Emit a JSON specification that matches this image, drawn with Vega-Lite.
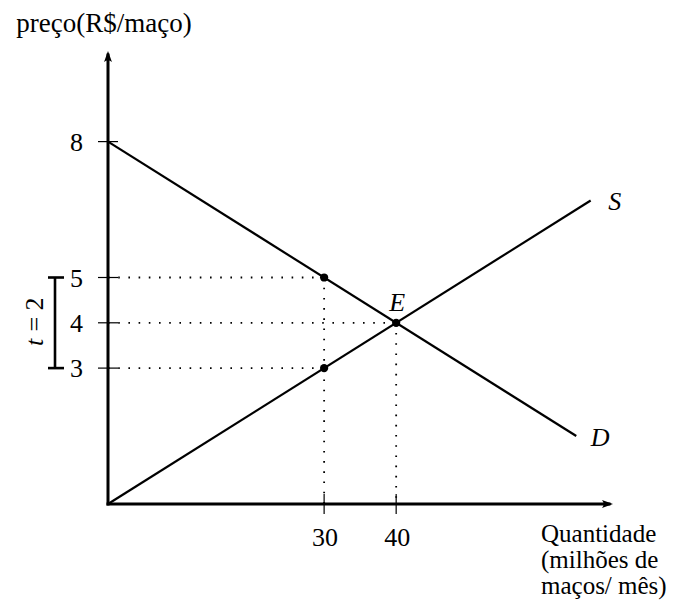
{
  "$schema": "https://vega.github.io/schema/vega-lite/v6.json",
  "width": 505,
  "height": 453,
  "autosize": "none",
  "padding": {"left": 108, "top": 51, "right": 77, "bottom": 102},
  "background": "white",
  "config": {
    "view": {"stroke": null},
    "text": {"font": "Liberation Serif", "fontSize": 26, "color": "black"}
  },
  "layer": [
    {
      "data": {"values": [{"q": 0, "p": 0, "q2": 70.1}]},
      "mark": {"type": "rule", "color": "black", "strokeWidth": 3, "strokeCap": "square", "x2Offset": -4},
      "encoding": {
        "x": {"field": "q", "type": "quantitative", "scale": {"domain": [0, 70.1], "nice": false, "zero": false}, "axis": null},
        "x2": {"field": "q2"},
        "y": {"field": "p", "type": "quantitative", "scale": {"domain": [0, 10], "nice": false, "zero": false}, "axis": null}
      }
    },
    {
      "data": {"values": [{"q": 0, "p": 0, "p2": 10}]},
      "mark": {"type": "rule", "color": "black", "strokeWidth": 3, "strokeCap": "square", "y2Offset": 4},
      "encoding": {
        "x": {"field": "q", "type": "quantitative", "scale": {"domain": [0, 70.1], "nice": false, "zero": false}, "axis": null},
        "y": {"field": "p", "type": "quantitative", "scale": {"domain": [0, 10], "nice": false, "zero": false}, "axis": null},
        "y2": {"field": "p2"}
      }
    },
    {
      "data": {"values": [{"q": 70.1, "p": 0}]},
      "mark": {"type": "point", "shape": "M0,0 L-2,-0.72 Q-1.4,0 -2,0.72 Z", "size": 121, "filled": true, "opacity": 1, "color": "black", "strokeWidth": 0, "angle": 0},
      "encoding": {
        "x": {"field": "q", "type": "quantitative", "scale": {"domain": [0, 70.1], "nice": false, "zero": false}, "axis": null},
        "y": {"field": "p", "type": "quantitative", "scale": {"domain": [0, 10], "nice": false, "zero": false}, "axis": null}
      }
    },
    {
      "data": {"values": [{"q": 0, "p": 10}]},
      "mark": {"type": "point", "shape": "M0,0 L-2,-0.72 Q-1.4,0 -2,0.72 Z", "size": 121, "filled": true, "opacity": 1, "color": "black", "strokeWidth": 0, "angle": -90},
      "encoding": {
        "x": {"field": "q", "type": "quantitative", "scale": {"domain": [0, 70.1], "nice": false, "zero": false}, "axis": null},
        "y": {"field": "p", "type": "quantitative", "scale": {"domain": [0, 10], "nice": false, "zero": false}, "axis": null}
      }
    },
    {
      "data": {"values": [
        {"s": "D", "q": 0, "p": 8}, {"s": "D", "q": 65, "p": 1.5},
        {"s": "S", "q": 0, "p": 0}, {"s": "S", "q": 67, "p": 6.7}
      ]},
      "mark": {"type": "line", "color": "black", "strokeWidth": 2.2},
      "encoding": {
        "x": {"field": "q", "type": "quantitative", "scale": {"domain": [0, 70.1], "nice": false, "zero": false}, "axis": null},
        "y": {"field": "p", "type": "quantitative", "scale": {"domain": [0, 10], "nice": false, "zero": false}, "axis": null},
        "detail": {"field": "s"}
      }
    },
    {
      "data": {"values": [
        {"q": 0, "p": 5, "q2": 30, "p2": 5},
        {"q": 0, "p": 4, "q2": 40, "p2": 4},
        {"q": 0, "p": 3, "q2": 30, "p2": 3},
        {"q": 30, "p": 5, "q2": 30, "p2": 0},
        {"q": 40, "p": 4, "q2": 40, "p2": 0}
      ]},
      "mark": {"type": "rule", "color": "black", "strokeWidth": 1.8, "strokeDash": [1.6, 8.6]},
      "encoding": {
        "x": {"field": "q", "type": "quantitative", "scale": {"domain": [0, 70.1], "nice": false, "zero": false}, "axis": null},
        "y": {"field": "p", "type": "quantitative", "scale": {"domain": [0, 10], "nice": false, "zero": false}, "axis": null},
        "x2": {"field": "q2"},
        "y2": {"field": "p2"}
      }
    },
    {
      "data": {"values": [{"p": 8}, {"p": 5}, {"p": 4}, {"p": 3}]},
      "mark": {"type": "rule", "color": "black", "strokeWidth": 1.2, "xOffset": -10, "x2Offset": 10},
      "encoding": {
        "x": {"datum": 0, "type": "quantitative", "scale": {"domain": [0, 70.1], "nice": false, "zero": false}, "axis": null},
        "x2": {"datum": 0},
        "y": {"field": "p", "type": "quantitative", "scale": {"domain": [0, 10], "nice": false, "zero": false}, "axis": null}
      }
    },
    {
      "data": {"values": [{"q": 30}, {"q": 40}]},
      "mark": {"type": "rule", "color": "black", "strokeWidth": 1.2, "yOffset": -10, "y2Offset": 10},
      "encoding": {
        "x": {"field": "q", "type": "quantitative", "scale": {"domain": [0, 70.1], "nice": false, "zero": false}, "axis": null},
        "y": {"datum": 0, "type": "quantitative", "scale": {"domain": [0, 10], "nice": false, "zero": false}, "axis": null},
        "y2": {"datum": 0}
      }
    },
    {
      "data": {"values": [{"lo": 3, "hi": 5}]},
      "mark": {"type": "rule", "color": "black", "strokeWidth": 2.6, "xOffset": -53},
      "encoding": {
        "x": {"datum": 0, "type": "quantitative", "scale": {"domain": [0, 70.1], "nice": false, "zero": false}, "axis": null},
        "y": {"field": "lo", "type": "quantitative", "scale": {"domain": [0, 10], "nice": false, "zero": false}, "axis": null},
        "y2": {"field": "hi"}
      }
    },
    {
      "data": {"values": [{"p": 5}, {"p": 3}]},
      "mark": {"type": "rule", "color": "black", "strokeWidth": 2.6, "xOffset": -60, "x2Offset": -44},
      "encoding": {
        "x": {"datum": 0, "type": "quantitative", "scale": {"domain": [0, 70.1], "nice": false, "zero": false}, "axis": null},
        "x2": {"datum": 0},
        "y": {"field": "p", "type": "quantitative", "scale": {"domain": [0, 10], "nice": false, "zero": false}, "axis": null}
      }
    },
    {
      "data": {"values": [{"q": 30, "p": 5}, {"q": 30, "p": 3}, {"q": 40, "p": 4}]},
      "mark": {"type": "point", "shape": "circle", "size": 68, "filled": true, "opacity": 1, "color": "black"},
      "encoding": {
        "x": {"field": "q", "type": "quantitative", "scale": {"domain": [0, 70.1], "nice": false, "zero": false}, "axis": null},
        "y": {"field": "p", "type": "quantitative", "scale": {"domain": [0, 10], "nice": false, "zero": false}, "axis": null}
      }
    },
    {
      "data": {"values": [{"p": 8, "t": "8"}, {"p": 5, "t": "5"}, {"p": 4, "t": "4"}, {"p": 3, "t": "3"}]},
      "mark": {"type": "text", "align": "center", "baseline": "alphabetic", "dx": -31.5, "dy": 9},
      "encoding": {
        "x": {"datum": 0, "type": "quantitative", "scale": {"domain": [0, 70.1], "nice": false, "zero": false}, "axis": null},
        "y": {"field": "p", "type": "quantitative", "scale": {"domain": [0, 10], "nice": false, "zero": false}, "axis": null},
        "text": {"field": "t"}
      }
    },
    {
      "data": {"values": [{"q": 30, "t": "30"}, {"q": 40, "t": "40"}]},
      "mark": {"type": "text", "align": "center", "baseline": "alphabetic", "dx": 1, "dy": 42},
      "encoding": {
        "x": {"field": "q", "type": "quantitative", "scale": {"domain": [0, 70.1], "nice": false, "zero": false}, "axis": null},
        "y": {"datum": 0, "type": "quantitative", "scale": {"domain": [0, 10], "nice": false, "zero": false}, "axis": null},
        "text": {"field": "t"}
      }
    },
    {
      "data": {"values": [{"q": 67, "p": 6.7, "t": "S"}, {"q": 65, "p": 1.5, "t": "D"}]},
      "mark": {"type": "text", "align": "center", "baseline": "alphabetic", "fontStyle": "italic", "dx": 24, "dy": 10},
      "encoding": {
        "x": {"field": "q", "type": "quantitative", "scale": {"domain": [0, 70.1], "nice": false, "zero": false}, "axis": null},
        "y": {"field": "p", "type": "quantitative", "scale": {"domain": [0, 10], "nice": false, "zero": false}, "axis": null},
        "text": {"field": "t"}
      }
    },
    {
      "data": {"values": [{"q": 40, "p": 4, "t": "E"}]},
      "mark": {"type": "text", "align": "center", "baseline": "alphabetic", "fontStyle": "italic", "dx": 1, "dy": -12},
      "encoding": {
        "x": {"field": "q", "type": "quantitative", "scale": {"domain": [0, 70.1], "nice": false, "zero": false}, "axis": null},
        "y": {"field": "p", "type": "quantitative", "scale": {"domain": [0, 10], "nice": false, "zero": false}, "axis": null},
        "text": {"field": "t"}
      }
    },
    {
      "data": {"values": [{"q": 0, "p": 4, "t": "t"}]},
      "mark": {"type": "text", "align": "center", "baseline": "middle", "fontStyle": "italic", "angle": 270, "dx": -19.7, "dy": -73},
      "encoding": {
        "x": {"field": "q", "type": "quantitative", "scale": {"domain": [0, 70.1], "nice": false, "zero": false}, "axis": null},
        "y": {"field": "p", "type": "quantitative", "scale": {"domain": [0, 10], "nice": false, "zero": false}, "axis": null},
        "text": {"field": "t"}
      }
    },
    {
      "data": {"values": [{"q": 0, "p": 4, "t": "= 2"}]},
      "mark": {"type": "text", "align": "center", "baseline": "middle", "angle": 270, "dx": 8.3, "dy": -73},
      "encoding": {
        "x": {"field": "q", "type": "quantitative", "scale": {"domain": [0, 70.1], "nice": false, "zero": false}, "axis": null},
        "y": {"field": "p", "type": "quantitative", "scale": {"domain": [0, 10], "nice": false, "zero": false}, "axis": null},
        "text": {"field": "t"}
      }
    },
    {
      "data": {"values": [{"q": 0, "p": 10, "t": "preço(R$/maço)"}]},
      "mark": {"type": "text", "align": "center", "baseline": "alphabetic", "dx": -4, "dy": -19.3, "fontSize": 27},
      "encoding": {
        "x": {"field": "q", "type": "quantitative", "scale": {"domain": [0, 70.1], "nice": false, "zero": false}, "axis": null},
        "y": {"field": "p", "type": "quantitative", "scale": {"domain": [0, 10], "nice": false, "zero": false}, "axis": null},
        "text": {"field": "t"}
      }
    },
    {
      "data": {"values": [{"q": 70.1, "p": 0, "t": "Quantidade\n(milhões de\nmaços/ mês)"}]},
      "mark": {"type": "text", "align": "left", "baseline": "alphabetic", "dx": -72, "dy": 37.7, "lineBreak": "\n", "lineHeight": 26, "fontSize": 25},
      "encoding": {
        "x": {"field": "q", "type": "quantitative", "scale": {"domain": [0, 70.1], "nice": false, "zero": false}, "axis": null},
        "y": {"field": "p", "type": "quantitative", "scale": {"domain": [0, 10], "nice": false, "zero": false}, "axis": null},
        "text": {"field": "t"}
      }
    }
  ]
}
